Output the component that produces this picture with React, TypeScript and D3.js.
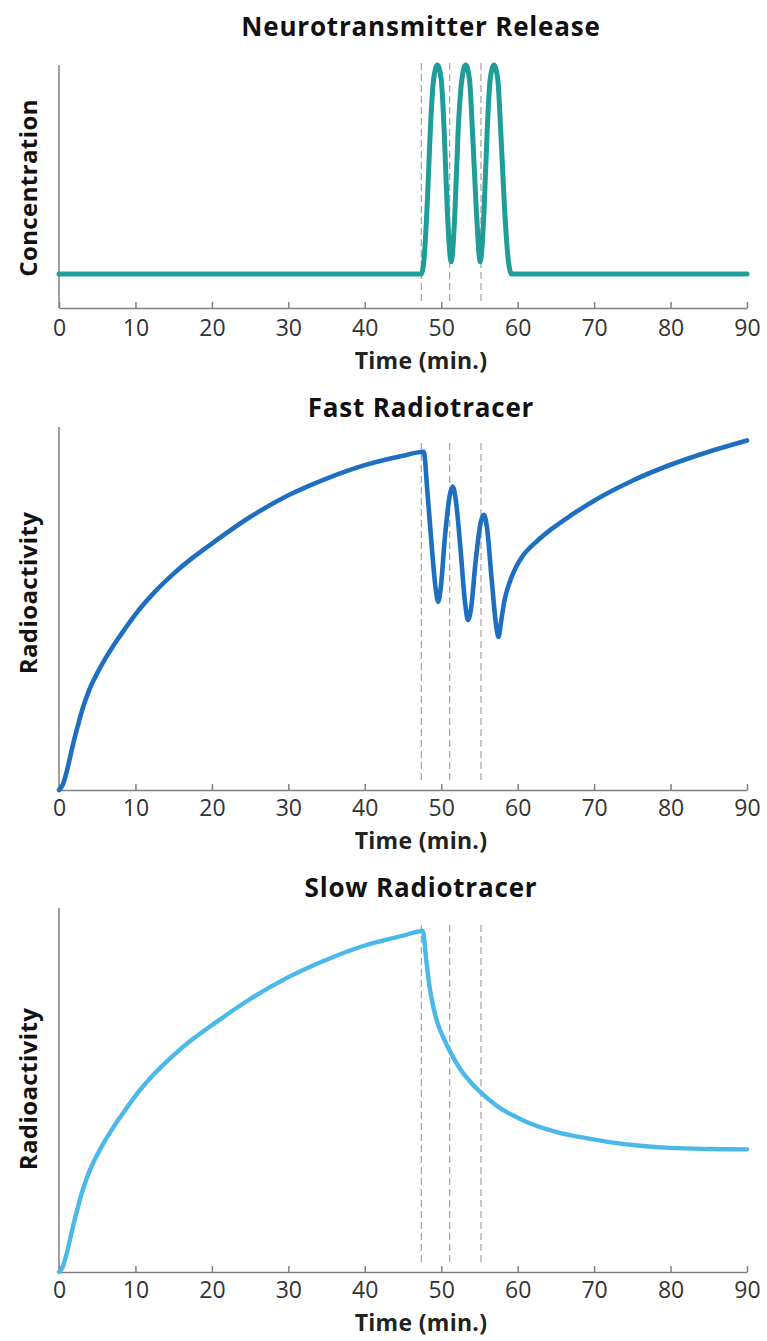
import React, { useEffect, useRef } from 'react';
import * as d3 from 'd3';

// values, y as fraction of the axis height
const releaseTime = [0, 47.4, 47.8, 48.2, 48.6, 49.0, 49.5, 50.0, 50.4, 50.8, 51.3, 51.8, 52.2, 52.7, 53.2, 53.7, 54.1, 54.6, 55.1, 55.6, 56.0, 56.4, 56.9, 57.4, 57.8, 58.3, 58.8, 59.2, 90];
const releaseValue = [0.14, 0.14, 0.22, 0.45, 0.75, 0.94, 1.0, 0.94, 0.72, 0.4, 0.19, 0.4, 0.72, 0.94, 1.0, 0.94, 0.72, 0.4, 0.19, 0.4, 0.72, 0.94, 1.0, 0.94, 0.72, 0.4, 0.19, 0.14, 0.14];

const fastTime = [0, 0.5, 1, 1.5, 2, 2.5, 3, 3.5, 4, 5, 6, 7, 8, 10, 12.5, 15, 17.5, 20, 25, 30, 35, 40, 45, 47.7, 48.2, 48.8, 49.3, 49.6, 49.9, 50.5, 51.1, 51.5, 51.9, 52.5, 53.1, 53.5, 53.9, 54.5, 55.2, 55.6, 56.0, 56.6, 57.2, 57.5, 57.8, 58.3, 59.0, 59.8, 60.5, 62.5, 64.5, 67, 70, 75, 80, 85, 90];
const fastValue = [0, 0.015, 0.05, 0.095, 0.14, 0.18, 0.218, 0.25, 0.278, 0.322, 0.36, 0.394, 0.425, 0.484, 0.545, 0.596, 0.64, 0.679, 0.752, 0.812, 0.858, 0.895, 0.921, 0.932, 0.82, 0.66, 0.55, 0.519, 0.55, 0.7, 0.81, 0.836, 0.8, 0.67, 0.52, 0.468, 0.5, 0.63, 0.74, 0.758, 0.72, 0.58, 0.45, 0.422, 0.46, 0.525, 0.575, 0.615, 0.64, 0.685, 0.72, 0.757, 0.797, 0.852, 0.896, 0.932, 0.963];

const slowTime = [0, 0.5, 1, 1.5, 2, 2.5, 3, 3.5, 4, 5, 6, 7, 8, 10, 12.5, 15, 17.5, 20, 25, 30, 35, 40, 45, 47.6, 48.0, 48.5, 49.0, 49.5, 50.3, 51.3, 52.5, 54, 55.5, 57.7, 60, 62, 65, 68.6, 72, 76, 80, 85, 90];
const slowValue = [0, 0.015, 0.05, 0.095, 0.14, 0.18, 0.218, 0.25, 0.278, 0.322, 0.36, 0.394, 0.425, 0.484, 0.545, 0.596, 0.64, 0.678, 0.75, 0.81, 0.858, 0.897, 0.924, 0.937, 0.865, 0.78, 0.725, 0.685, 0.643, 0.6, 0.557, 0.518, 0.487, 0.45, 0.424, 0.405, 0.385, 0.369, 0.357, 0.347, 0.341, 0.338, 0.337];

const dashTimes = [47.4, 51.1, 55.2];
const xTicks = [0, 10, 20, 30, 40, 50, 60, 70, 80, 90];

const panels = [
    { title: 'Neurotransmitter Release', yLabel: 'Concentration', time: releaseTime, value: releaseValue, color: '#1f9e99', width: 5, top: 65, bottom: 308, titleY: 26, yLabelY: 188, tickDy: 20, labelDy: 52, dashTop: 63, dashBottom: 304 },
    { title: 'Fast Radiotracer', yLabel: 'Radioactivity', time: fastTime, value: fastValue, color: '#1f6fc0', width: 4.6, top: 427, bottom: 790, titleY: 407, yLabelY: 593, tickDy: 18, labelDy: 50, dashTop: 443, dashBottom: 784 },
    { title: 'Slow Radiotracer', yLabel: 'Radioactivity', time: slowTime, value: slowValue, color: '#4ab8e8', width: 4.4, top: 908, bottom: 1272, titleY: 887, yLabelY: 1089, tickDy: 18, labelDy: 50, dashTop: 925, dashBottom: 1264 },
];

const FONT = '"Open Sans", "Noto Sans", sans-serif';

const App = () => {
    const svgRef = useRef(null);

    useEffect(() => {
        if (!svgRef.current) return;
        const svg = d3.select(svgRef.current);
        svg.selectAll('*').remove();

        const x = d3.scaleLinear().domain([0, 90]).range([59, 747]);
        const centerX = 421;

        panels.forEach((p) => {
            const y = d3.scaleLinear().domain([0, 1]).range([p.bottom, p.top]);
            const g = svg.append('g');

            // title
            g.append('text')
                .attr('x', centerX)
                .attr('y', p.titleY)
                .attr('text-anchor', 'middle')
                .attr('dominant-baseline', 'central')
                .style('font-family', FONT)
                .style('font-weight', 700)
                .style('font-size', '26px')
                .style('letter-spacing', '0.8px')
                .attr('fill', '#111')
                .text(p.title);

            // dashed markers
            g.selectAll('line.dash')
                .data(dashTimes)
                .enter()
                .append('line')
                .attr('class', 'dash')
                .attr('x1', d => x(d))
                .attr('x2', d => x(d))
                .attr('y1', p.dashTop)
                .attr('y2', p.dashBottom)
                .attr('stroke', '#a8a8a8')
                .attr('stroke-width', 1.3)
                .attr('stroke-dasharray', '7,4');

            // y axis line
            g.append('line')
                .attr('x1', 59).attr('x2', 59)
                .attr('y1', p.top).attr('y2', p.bottom)
                .attr('stroke', '#808080')
                .attr('stroke-width', 1.5);

            // x axis
            const ax = g.append('g')
                .attr('transform', `translate(0,${p.bottom})`)
                .call(d3.axisBottom(x).tickValues(xTicks).tickSizeInner(-6).tickSizeOuter(0));
            ax.select('.domain').attr('stroke', '#808080').attr('stroke-width', 1.5);
            ax.selectAll('.tick line').attr('stroke', '#808080').attr('stroke-width', 1.5);
            ax.selectAll('.tick text')
                .attr('y', p.tickDy)
                .attr('dy', '0.36em')
                .attr('fill', '#333')
                .style('font-family', FONT)
                .style('font-size', '23px');

            // x label
            g.append('text')
                .attr('x', centerX)
                .attr('y', p.bottom + p.labelDy)
                .attr('text-anchor', 'middle')
                .attr('dominant-baseline', 'central')
                .style('font-family', FONT)
                .style('font-weight', 700)
                .style('font-size', '23px')
                .style('letter-spacing', '0.3px')
                .attr('fill', '#222')
                .text('Time (min.)');

            // y label
            g.append('text')
                .attr('transform', `translate(27,${p.yLabelY}) rotate(-90)`)
                .attr('text-anchor', 'middle')
                .attr('dominant-baseline', 'central')
                .style('font-family', FONT)
                .style('font-weight', 700)
                .style('font-size', '24px')
                .style('letter-spacing', '0.4px')
                .attr('fill', '#111')
                .text(p.yLabel);

            // curve
            const pts = p.time.map((t, i) => [t, p.value[i]]);
            const line = d3.line()
                .x(d => x(d[0]))
                .y(d => y(d[1]))
                .curve(d3.curveMonotoneX);
            g.append('path')
                .datum(pts)
                .attr('d', line)
                .attr('fill', 'none')
                .attr('stroke', p.color)
                .attr('stroke-width', p.width)
                .attr('stroke-linejoin', 'round')
                .attr('stroke-linecap', 'round');
        });
    }, []);

    return (
        <svg
            ref={svgRef}
            width={767}
            height={1341}
            style={{ position: 'absolute', left: 0, top: 0, background: '#fff', display: 'block' }}
        ></svg>
    );
};

export default App;
